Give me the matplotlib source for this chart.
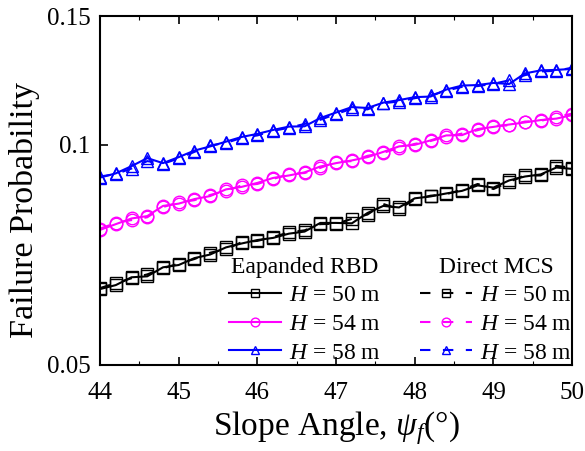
import matplotlib
matplotlib.use("Agg")
import matplotlib.pyplot as plt
from matplotlib.ticker import FixedLocator, FixedFormatter, MultipleLocator, NullLocator

plt.rcParams["font.family"] = ["Liberation Serif", "DejaVu Serif"]
plt.rcParams["mathtext.fontset"] = "custom"
plt.rcParams["mathtext.rm"] = "Liberation Serif"
plt.rcParams["mathtext.it"] = "Liberation Serif:italic"

angle = [44.0, 44.2, 44.4, 44.6, 44.8, 45.0, 45.2, 45.4, 45.6, 45.8,
         46.0, 46.2, 46.4, 46.6, 46.8, 47.0, 47.2, 47.4, 47.6, 47.8,
         48.0, 48.2, 48.4, 48.6, 48.8, 49.0, 49.2, 49.4, 49.6, 49.8, 50.0]

# Expanded RBD
rbd_h50 = [0.0635, 0.0643, 0.0659, 0.0661, 0.0680, 0.0685, 0.0700, 0.0708, 0.0724, 0.0733,
           0.0741, 0.0746, 0.0756, 0.0761, 0.0782, 0.0782, 0.0781, 0.0807, 0.0825, 0.0821,
           0.0845, 0.0850, 0.0858, 0.0865, 0.0880, 0.0874, 0.0894, 0.0905, 0.0911, 0.0931, 0.0927]
rbd_h54 = [0.0765, 0.0779, 0.0793, 0.0799, 0.0825, 0.0831, 0.0843, 0.0851, 0.0869, 0.0876,
           0.0887, 0.0901, 0.0908, 0.0917, 0.0934, 0.0944, 0.0952, 0.0962, 0.0978, 0.0995,
           0.1000, 0.1014, 0.1030, 0.1031, 0.1051, 0.1058, 0.1066, 0.1073, 0.1081, 0.1086, 0.1098]
rbd_h58 = [0.0902, 0.0914, 0.0935, 0.0959, 0.0944, 0.0962, 0.0982, 0.0995, 0.1010, 0.1025,
           0.1035, 0.1048, 0.1059, 0.1060, 0.1088, 0.1107, 0.1126, 0.1123, 0.1142, 0.1151,
           0.1162, 0.1164, 0.1190, 0.1205, 0.1207, 0.1215, 0.1211, 0.1252, 0.1264, 0.1266, 0.1270]

# Direct MCS
mcs_h50 = [0.0637, 0.0647, 0.0657, 0.0665, 0.0678, 0.0688, 0.0698, 0.0712, 0.0720, 0.0736,
           0.0739, 0.0748, 0.0759, 0.0764, 0.0779, 0.0780, 0.0792, 0.0803, 0.0830, 0.0817,
           0.0842, 0.0852, 0.0856, 0.0868, 0.0884, 0.0870, 0.0890, 0.0908, 0.0908, 0.0936, 0.0930]
mcs_h54 = [0.0768, 0.0782, 0.0789, 0.0796, 0.0822, 0.0834, 0.0840, 0.0854, 0.0865, 0.0880,
           0.0884, 0.0898, 0.0912, 0.0915, 0.0930, 0.0947, 0.0950, 0.0966, 0.0975, 0.0990,
           0.1003, 0.1012, 0.1026, 0.1036, 0.1047, 0.1062, 0.1063, 0.1076, 0.1078, 0.1092, 0.1103]
mcs_h58 = [0.0905, 0.0912, 0.0928, 0.0950, 0.0942, 0.0958, 0.0978, 0.0998, 0.1006, 0.1022,
           0.1030, 0.1045, 0.1055, 0.1068, 0.1082, 0.1102, 0.1120, 0.1118, 0.1140, 0.1146,
           0.1158, 0.1168, 0.1186, 0.1200, 0.1203, 0.1212, 0.1225, 0.1245, 0.1260, 0.1262, 0.1275]

labels = ["$H$ = 50 m", "$H$ = 54 m", "$H$ = 58 m"]
colors = ["black", "#ff00ff", "#0000ff"]
markers = ["s", "o", "^"]

fig = plt.figure(figsize=(5.85, 4.51), dpi=100)
ax = fig.add_axes([0.171, 0.1907, 0.807, 0.7738])

rbd_lines = []
for y, c, m, lab in zip([rbd_h50, rbd_h54, rbd_h58], colors, markers, labels):
    ln, = ax.plot(angle, y, color=c, marker=m, markersize=9, markerfacecolor="none",
                  markeredgewidth=1.0, linewidth=1.5, label=lab)
    rbd_lines.append(ln)

mcs_lines = []
for y, c, m, lab in zip([mcs_h50, mcs_h54, mcs_h58], colors, markers, labels):
    ln, = ax.plot(angle, y, color=c, marker=m, markersize=9, markerfacecolor="none",
                  markeredgewidth=1.0, linewidth=1.5, linestyle=(0, (5, 6)), label=lab)
    mcs_lines.append(ln)

ax.set_yscale("log")
ax.set_xlim(44, 50)
ax.set_ylim(0.05, 0.15)
ax.yaxis.set_major_locator(FixedLocator([0.05, 0.1, 0.15]))
ax.yaxis.set_major_formatter(FixedFormatter(["0.05", "0.1", "0.15"]))
ax.yaxis.set_minor_locator(NullLocator())
ax.xaxis.set_major_locator(MultipleLocator(1))
ax.xaxis.set_minor_locator(MultipleLocator(0.5))

ax.tick_params(axis="both", which="major", direction="in", length=6, width=1.2,
               labelsize=18)
ax.tick_params(axis="x", which="major", pad=12)
ax.tick_params(axis="y", which="major", pad=7)
ax.tick_params(axis="x", which="minor", direction="in", length=3, width=0.8)
ax.tick_params(axis="x", which="both", top=True)
for s in ax.spines.values():
    s.set_linewidth(1.5)

ax.set_xlabel(r"Slope Angle, $\psi_f$(°)", fontsize=24, labelpad=4)
ax.set_ylabel("Failure Probability", fontsize=24.5)
ax.yaxis.set_label_coords(-0.127, 0.444)

leg_kw = dict(loc="upper left", frameon=False, fontsize=17, title_fontsize=17,
              handlelength=2.2, handletextpad=0.35, labelspacing=0.3,
              markerscale=0.7, borderpad=0, borderaxespad=0)
leg1 = ax.legend(handles=rbd_lines, title="Eapanded RBD",
                 bbox_to_anchor=(0.273, 0.31), **leg_kw)
ax.add_artist(leg1)
leg2 = ax.legend(handles=mcs_lines, title="Direct MCS",
                 bbox_to_anchor=(0.678, 0.31), **leg_kw)

fig.savefig("out.png", dpi=100)
